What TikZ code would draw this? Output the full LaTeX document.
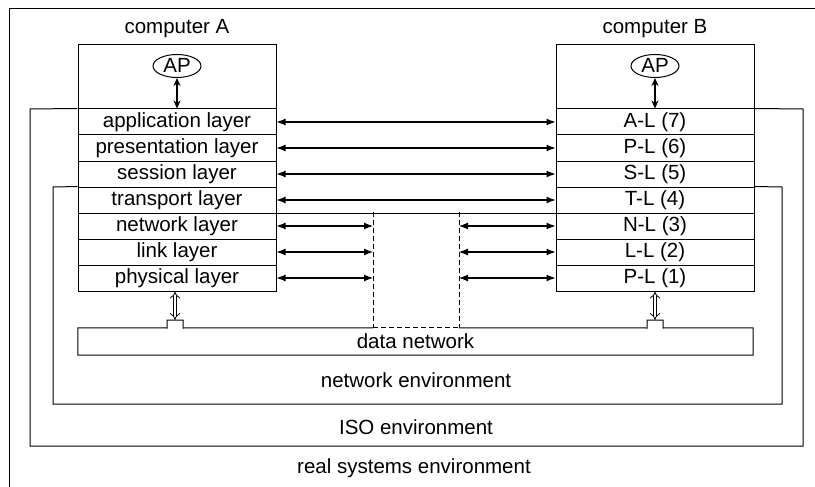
\documentclass[tikz,border=0pt]{standalone}
\usepackage{fontspec}
\setmainfont{Liberation Sans}
\usetikzlibrary{arrows.meta,positioning,shapes.geometric}

\begin{document}
\begin{tikzpicture}[
  x=1pt, y=-1pt,
  font=\fontsize{20.5}{24}\selectfont,
  layer/.style={draw, line width=1pt, minimum width=198pt, minimum height=26pt, inner sep=0pt},
  comp/.style={draw, line width=1pt, minimum width=198pt, minimum height=246pt, inner sep=0pt},
  apnode/.style={draw, ellipse, line width=1pt, minimum width=48pt, minimum height=23pt, inner sep=0pt, text height=15pt, text depth=1pt},
  arr/.style={{Latex[length=9pt,width=7pt]}-{Latex[length=9pt,width=7pt]}, line width=1.1pt},
  aparr/.style={{Stealth[length=8pt,width=7pt]}-{Stealth[length=8pt,width=7pt]}, line width=1.2pt},
  darr/.style={{Implies}-{Implies}, double, double distance=2.8pt, line width=0.8pt},
  env/.style={line width=1pt},
  dashedline/.style={line width=1pt, dash pattern=on 5pt off 3pt}
]
\useasboundingbox (0,0) rectangle (815,487);
% the two computers
\node[comp] (compA) at (177,168) {};
\node[comp] (compB) at (655,168) {};
\node (labA) at (177,29) {computer A};
\node (labB) at (655,29) {computer B};
\node[apnode] (apA) at (177,66) {AP};
\node[apnode] (apB) at (655,66) {AP};
% layers of computer A
\node[layer] (a7) at (177,122) {application layer};
\node[layer] (a6) at (177,148) {presentation layer};
\node[layer] (a5) at (177,174) {session layer};
\node[layer] (a4) at (177,200) {transport layer};
\node[layer] (a3) at (177,226) {network layer};
\node[layer] (a2) at (177,252) {link layer};
\node[layer] (a1) at (177,278) {physical layer};
% layers of computer B
\node[layer] (b7) at (655,122) {A-L (7)};
\node[layer] (b6) at (655,148) {P-L (6)};
\node[layer] (b5) at (655,174) {S-L (5)};
\node[layer] (b4) at (655,200) {T-L (4)};
\node[layer] (b3) at (655,226) {N-L (3)};
\node[layer] (b2) at (655,252) {L-L (2)};
\node[layer] (b1) at (655,278) {P-L (1)};
% data network
\node[minimum width=675pt, minimum height=27pt, inner sep=0pt] (net) at (415.5,341.5) {data network};
\coordinate (dl) at (373,212);
\coordinate (dr) at (459,212);
\coordinate (bumpA) at (175,320);
\coordinate (bumpB) at (655,320);
\draw[env] (dl |- net.north) -- (183,328) -- ++(0,-8) -- ++(-16,0) -- ++(0,8) -- (net.north west) -- (net.south west) -- (net.south east) -- (net.north east) -- (663,328) -- ++(0,-8) -- ++(-16,0) -- ++(0,8) -- (dr |- net.north);
\draw[dashedline] (dl |- net.north) -- (dr |- net.north);
\draw[dashedline] (dl) -- (dl |- net.north);
\draw[dashedline] (dr) -- (dr |- net.north);
\draw[env] (a4.south east) -- (b4.south west);
% environments
\node (netenv) at (416,380) {network environment};
\node (isoenv) at (416,427) {ISO environment};
\node (realenv) at (414,468) {real systems environment};
\draw[env] (a4.north west) -- (53,187) -- (53,404) -- (782,404) -- (782,187) -- (b4.north east);
\draw[env] (a7.north west) -- (30,109) -- (30,446) -- (803,446) -- (803,109) -- (b7.north east);
\draw[env] (9,487) -- (9,9) -- (815,9);
% arrows
\draw[aparr] (apA.south) -- (a7.north);
\draw[aparr] (apB.south) -- (b7.north);
\draw[arr] (a7) -- (b7);
\draw[arr] (a6) -- (b6);
\draw[arr] (a5) -- (b5);
\draw[arr] (a4) -- (b4);
\draw[arr] (a3) -- (a3 -| dl);
\draw[arr] (a2) -- (a2 -| dl);
\draw[arr] (a1) -- (a1 -| dl);
\draw[arr] (b3 -| dr) -- (b3);
\draw[arr] (b2 -| dr) -- (b2);
\draw[arr] (b1 -| dr) -- (b1);
\draw[darr] (a1.south -| bumpA) -- (bumpA);
\draw[darr] (b1.south -| bumpB) -- (bumpB);
\end{tikzpicture}
\end{document}
